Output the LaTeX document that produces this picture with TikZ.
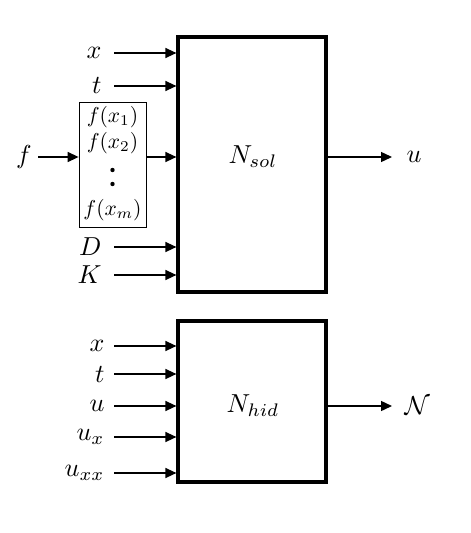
\documentclass[tikz,border=0pt]{standalone}
\usetikzlibrary{arrows.meta}
\begin{document}
\begin{tikzpicture}[x=1pt,y=-1pt,
  blk/.style={draw,line width=3.2pt,minimum width=148pt,inner sep=0pt},
  inp/.style={line width=1.4pt,-{Triangle[length=11pt,width=10pt]}},
  lbl/.style={inner sep=0pt,scale=2.6},
  small/.style={inner sep=0pt,scale=2.15}]
\useasboundingbox (0,0) rectangle (471,533);
% top block
\node[blk,minimum height=255pt] (sol) at (252,164.5) {};
\node[lbl] at (253,157) {$N_{sol}$};
% bottom block
\node[blk,minimum height=161pt] (hid) at (252,401.5) {};
\node[lbl] at (253,406) {$N_{hid}$};
% f box
\node[draw,line width=0.8pt,minimum width=67pt,minimum height=125pt,inner sep=0pt] (fb) at (112.5,164.5) {};
\node[small] (f1) at (112.5,117) {$f(x_1)$};
\node[small] (f2) at (112.5,143) {$f(x_2)$};
\fill (112.5,170) circle (2.2pt) (112.5,184) circle (2.2pt);
\node[small] (fm) at (112.5,210) {$f(x_m)$};
\node[lbl] (f) at (24,157) {$f$};
\coordinate (fs) at (38,157);
\draw[inp] (fs) -- (fb.west |- fs);
\coordinate (fo) at (146,157);
\draw[inp] (fo) -- (sol.west |- fo);
% top inputs
\foreach \n/\t/\yy in {ix/x/53, it/t/86, iD/D/247, iK/K/275}{
  \node[lbl,anchor=east] (\n) at (102,\yy) {$\t$};
  \coordinate (\n s) at (114,\yy);
  \draw[inp] (\n s) -- (sol.west |- \n s);
}
% output top
\coordinate (uo) at (392,157);
\draw[inp] (sol.east |- uo) -- (uo);
\node[lbl,anchor=west] (u) at (406,157) {$u$};
% bottom inputs
\foreach \n/\t/\yy in {bx/x/346, bt/t/374, bu/u/406, bux/u_x/437, buxx/u_{xx}/473}{
  \node[lbl,anchor=east] (\n) at (105,\yy) {$\t$};
  \coordinate (\n s) at (114,\yy);
  \draw[inp] (\n s) -- (hid.west |- \n s);
}
\coordinate (no) at (392,406);
\draw[inp] (hid.east |- no) -- (no);
\node[lbl,anchor=west] (N) at (404,406) {$\mathcal{N}$};
\end{tikzpicture}
\end{document}
